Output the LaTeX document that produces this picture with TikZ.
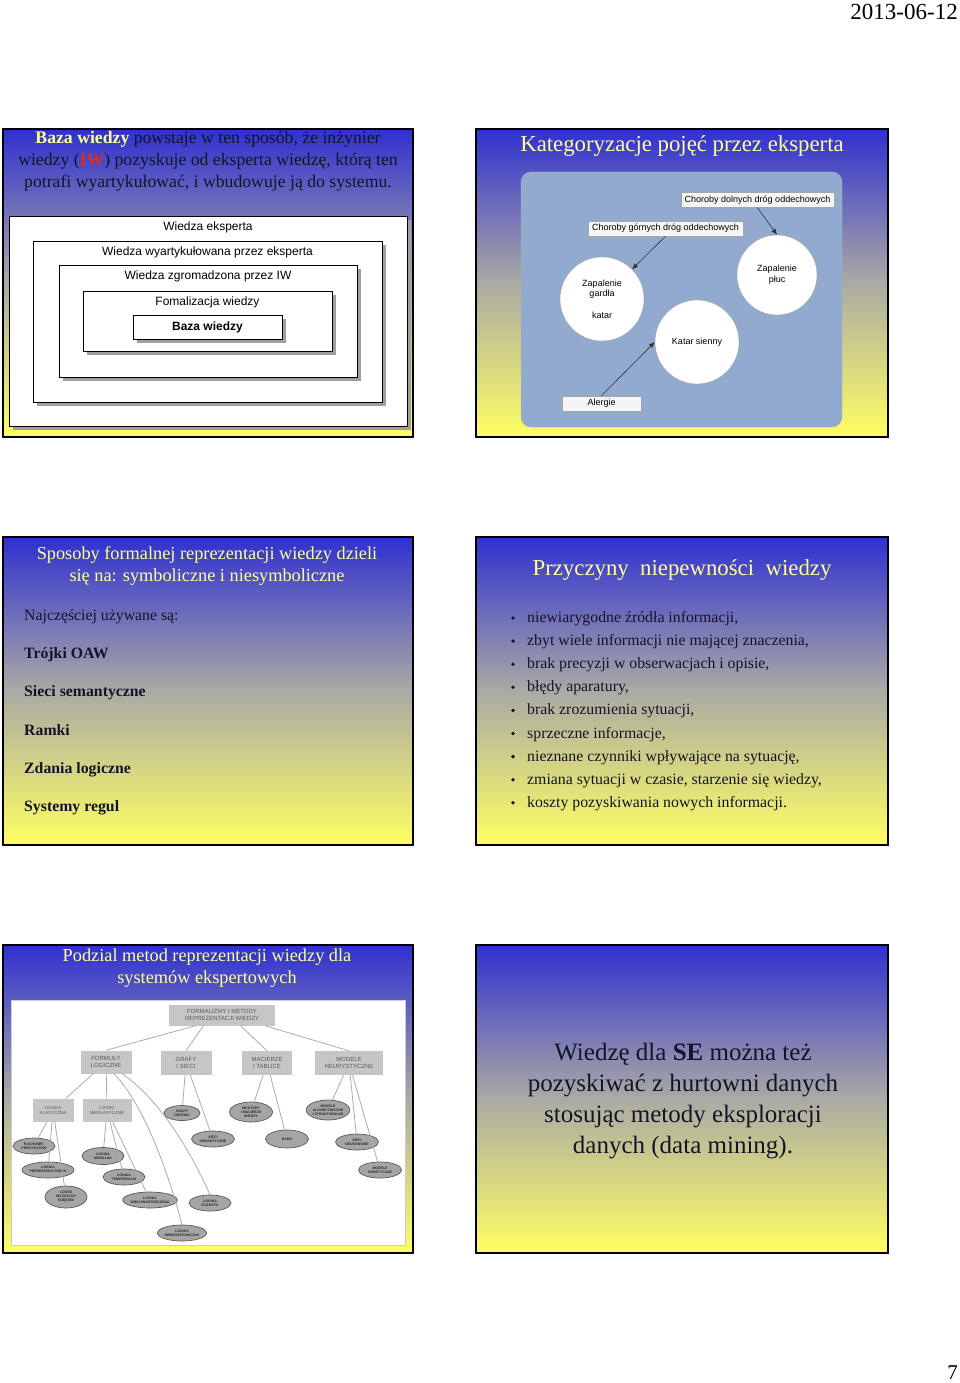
\documentclass[tikz,border=0pt]{standalone}
\usepackage{fontspec}
\setmainfont{Liberation Serif}
\setsansfont{Liberation Sans}
\usetikzlibrary{positioning, arrows.meta, shapes.geometric, shadows}

\definecolor{slideblue}{RGB}{48,48,208}
\definecolor{slidemid}{RGB}{170,170,165}
\definecolor{slideyellow}{RGB}{255,255,100}
\definecolor{titleyellow}{RGB}{255,255,150}
\definecolor{textdark}{RGB}{20,20,40}
\definecolor{ivred}{RGB}{225,45,25}
\definecolor{catbg}{RGB}{146,170,206}
\definecolor{treegray}{RGB}{198,198,198}
\definecolor{leafgray}{RGB}{165,165,165}

\begin{document}
\begin{tikzpicture}[x=1pt, y=-1pt,
    slide/.style={draw=black, line width=1.8pt, top color=slideblue, bottom color=slideyellow, middle color=slidemid},
    slidetitle/.style={font=\fontsize{22.8}{26}\selectfont, text=titleyellow, align=center, inner sep=0pt},
    slidetitlesmall/.style={font=\fontsize{18.3}{22}\selectfont, text=titleyellow, align=center, inner sep=0pt},
    layer/.style={rectangle, draw=black, line width=0.9pt, fill=white, inner sep=0pt, general shadow={fill=gray!75, shadow xshift=4pt, shadow yshift=-4pt}},
    layerlabel/.style={anchor=center, yshift=-12pt, font=\sffamily\fontsize{12}{14}\selectfont, inner sep=0pt},
    catbox/.style={rectangle, draw=gray!70, fill=gray!8, font=\sffamily\fontsize{9}{11}\selectfont, inner sep=0pt, minimum height=15pt},
    concept/.style={circle, draw=gray!70, fill=white, font=\sffamily\fontsize{9}{10.7}\selectfont, align=center, inner sep=0pt},
    linkarrow/.style={-{Latex[length=6pt, width=5pt]}, draw=black!80, line width=0.6pt},
    bodyline/.style={anchor=west, font=\fontsize{15.8}{18}\selectfont, text=textdark, inner sep=0pt, text height=10pt, text depth=3pt},
    method/.style={rectangle, fill=treegray, text=black!65, font=\sffamily\fontsize{6}{6.5}\selectfont, align=center, inner sep=0pt},
    leaf/.style={ellipse, draw=black!65, line width=0.7pt, fill=leafgray, text=black!85, font=\sffamily\bfseries\fontsize{3.5}{4}\selectfont, align=center, inner sep=0pt, minimum width=42pt, minimum height=16pt},
    treeline/.style={draw=gray!65, line width=0.8pt}
]
\useasboundingbox (0,0) rectangle (960,1383);

\node (date) [anchor=east, font=\fontsize{23}{26}\selectfont, inner sep=0pt] at (958,12) {2013-06-12};
\node (pagenum) [anchor=east, font=\fontsize{21}{24}\selectfont, inner sep=0pt] at (958,1373) {7};

% slide 1
\draw[slide] (3,129) rectangle (413,437);
\node (expert) [layer, minimum width=398pt, minimum height=210pt, label={[layerlabel]north:Wiedza eksperta}] at (208,321) {};
\node (artic) [layer, minimum width=349pt, minimum height=161pt, label={[layerlabel]north:Wiedza wyartykułowana przez eksperta}] at (207.5,321.5) {};
\node (gathered) [layer, minimum width=298pt, minimum height=112pt, label={[layerlabel]north:Wiedza zgromadzona przez IW}] at (208,321) {};
\node (formal) [layer, minimum width=249pt, minimum height=60pt, label={[layerlabel]north:Fomalizacja wiedzy}] at (207.5,321) {};
\node (kbase) [layer, minimum width=149pt, minimum height=24pt, font=\sffamily\bfseries\fontsize{12}{14}\selectfont] at (207.5,327) {Baza wiedzy};
\node (intro) [font=\fontsize{17.7}{22}\selectfont, text=textdark, align=center, inner sep=0pt] at (208,161)
  {\textcolor{titleyellow}{\textbf{Baza wiedzy}} powstaje w ten sposób, że inżynier\\
   wiedzy (\textcolor{ivred}{\textbf{IW}}) pozyskuje od eksperta wiedzę, którą ten\\
   potrafi wyartykułować, i wbudowuje ją do systemu.};

% slide 2
\draw[slide] (476,129) rectangle (888,437);
\node (cattitle) [slidetitle] at (682,146) {Kategoryzacje pojęć przez eksperta};
\draw[draw=gray!60, fill=catbg, rounded corners=10pt] (521,172) rectangle (842,427);
\node (lower) [catbox, minimum width=153pt] at (757.5,200) {Choroby dolnych dróg oddechowych};
\node (upper) [catbox, minimum width=155pt] at (665.5,228.5) {Choroby górnych dróg oddechowych};
\node (throat) [concept, minimum size=84pt] at (602,299) {Zapalenie\\gardła\\ \\katar};
\node (lungs) [concept, minimum size=80pt] at (777,275) {Zapalenie\\płuc};
\node (hayfever) [concept, minimum size=84pt] at (697,342) {Katar sienny};
\node (allergy) [catbox, minimum width=79pt] at (601.5,403.5) {Alergie};
\draw[linkarrow] (upper.south) -- (throat);
\draw[linkarrow] (lower.south) -- (lungs.north);
\draw[linkarrow] (allergy.north) -- (hayfever.west);

% slide 3
\draw[slide] (3,537) rectangle (413,845);
\node (formtitle) [slidetitlesmall] at (207,566) {Sposoby formalnej reprezentacji wiedzy dzieli\\się na: symboliczne i niesymboliczne};
\node (used) [bodyline] at (24,617) {Najczęściej używane są:};
\foreach \t [count=\i] in {Trójki OAW, Sieci semantyczne, Ramki, Zdania logiczne, Systemy regul}
  \node (form\i) [bodyline, font=\bfseries\fontsize{15.8}{18}\selectfont] at (24,{617+38.2*\i}) {\t};

% slide 4
\draw[slide] (476,537) rectangle (888,845);
\node (causetitle) [slidetitle] at (682,570) {Przyczyny\ \ niepewności\ \ wiedzy};
\foreach \t [count=\i from 0] in {{niewiarygodne źródła informacji,}, {zbyt wiele informacji nie mającej znaczenia,},
    {brak precyzji w obserwacjach i opisie,}, {błędy aparatury,}, {brak zrozumienia sytuacji,},
    {sprzeczne informacje,}, {nieznane czynniki wpływające na sytuację,},
    {zmiana sytuacji w czasie, starzenie się wiedzy,}, {koszty pozyskiwania nowych informacji.}}
{
  \node (dot\i) [circle, fill=textdark, inner sep=0pt, minimum size=3.8pt] at (513,{618+23.1*\i}) {};
  \node (cause\i) [bodyline] at (527,{619+23.1*\i}) {\t};
}

% slide 5
\draw[slide] (3,945) rectangle (413,1253);
\node (treetitle) [slidetitlesmall] at (207,968.5) {Podzial metod reprezentacji wiedzy dla\\systemów ekspertowych};
\draw[draw=gray!40, fill=white] (11,1000) rectangle (405,1245);
\node (root) [method, minimum width=106pt, minimum height=21pt] at (222,1015) {FORMALIZMY I METODY\\REPREZENTACJI WIEDZY};
\node (logic) [method, minimum width=51pt, minimum height=23pt] at (106,1062) {FORMUŁY\\LOGICZNE};
\node (graphs) [method, minimum width=51pt, minimum height=24pt] at (186,1063) {GRAFY\\I SIECI};
\node (tables) [method, minimum width=50pt, minimum height=24pt] at (267,1063) {MACIERZE\\I TABLICE};
\node (heur) [method, minimum width=68pt, minimum height=24pt] at (349,1063) {MODELE\\HEURYSTYCZNE};
\node (classic) [method, minimum width=41pt, minimum height=23pt, font=\sffamily\fontsize{4.5}{5}\selectfont] at (53,1110) {LOGIKA\\KLASYCZNA};
\node (nonclassic) [method, minimum width=49pt, minimum height=23pt, font=\sffamily\fontsize{4.5}{5}\selectfont] at (107,1110) {LOGIKI\\NIEKLASYCZNE};
\node (c1) [leaf] at (34,1146) {RACHUNEK\\PREDYKATÓW};
\node (c2) [leaf, minimum width=48pt] at (48,1170) {LOGIKA\\PIERWSZEGO RZĘDU};
\node (c3) [leaf, minimum height=22pt] at (66,1197) {LOGIKI\\WYŻSZYCH\\RZĘDÓW};
\node (n1) [leaf, minimum height=17pt] at (103,1156) {LOGIKA\\MODALNA};
\node (n2) [leaf] at (124,1177) {LOGIKA\\TEMPORALNA};
\node (n3) [leaf, minimum width=38pt] at (150,1200) {LOGIKA\\WIELOWARTOŚCIOWA};
\node (fuzzy) [leaf] at (210,1203) {LOGIKA\\ROZMYTA};
\node (nonmono) [leaf, minimum width=36pt] at (182,1233) {LOGIKA\\NIEMONOTONICZNA};
\node (g1) [leaf, minimum width=36pt, minimum height=15pt] at (182,1113) {GRAFY\\DRZEWA};
\node (g2) [leaf, minimum width=43pt] at (213,1139) {SIECI\\SEMANTYCZNE};
\node (t1) [leaf, minimum width=43pt, minimum height=20pt] at (251,1112) {WEKTORY\\I MACIERZE\\WIEDZY};
\node (t2) [leaf, minimum width=43pt, minimum height=18pt] at (287,1139) {RAMY};
\node (h1) [leaf, minimum width=43pt, minimum height=20pt] at (328,1110) {MODELE\\ALGORYTMICZNE\\I STRUKTURALNE};
\node (h2) [leaf, minimum width=43pt] at (357,1142) {SIECI\\NEURONOWE};
\node (h3) [leaf, minimum width=43pt] at (380,1170) {MODELE\\GENETYCZNE};

\draw[treeline] (root.202) -- (logic.north);
\draw[treeline] (root.210) -- (graphs.north);
\draw[treeline] (root.330) -- (tables.north);
\draw[treeline] (root.346) -- (heur.north);
\draw[treeline] (logic) -- (classic);
\draw[treeline] (logic) -- (nonclassic);
\draw[treeline] (logic.-56) .. controls (140,1100) and (165,1160) .. (nonmono.north);
\draw[treeline] (logic.-36) .. controls (160,1100) and (190,1150) .. (fuzzy.north);
\foreach \c in {c1, c2, c3} \draw[treeline] (classic) -- (\c);
\foreach \c in {n1, n2, n3} \draw[treeline] (nonclassic) -- (\c);
\foreach \c in {g1, g2} \draw[treeline] (graphs) -- (\c);
\foreach \c in {t1, t2} \draw[treeline] (tables) -- (\c);
\foreach \c in {h1, h2, h3} \draw[treeline] (heur) -- (\c);

% slide 6
\draw[slide] (476,945) rectangle (888,1253);
\node (mining) [font=\fontsize{25}{31}\selectfont, text=textdark, align=center, inner sep=0pt] at (683,1101)
  {Wiedzę dla \textbf{SE} można też\\pozyskiwać z hurtowni danych\\stosując metody eksploracji\\danych (data mining).};
\end{tikzpicture}
\end{document}
